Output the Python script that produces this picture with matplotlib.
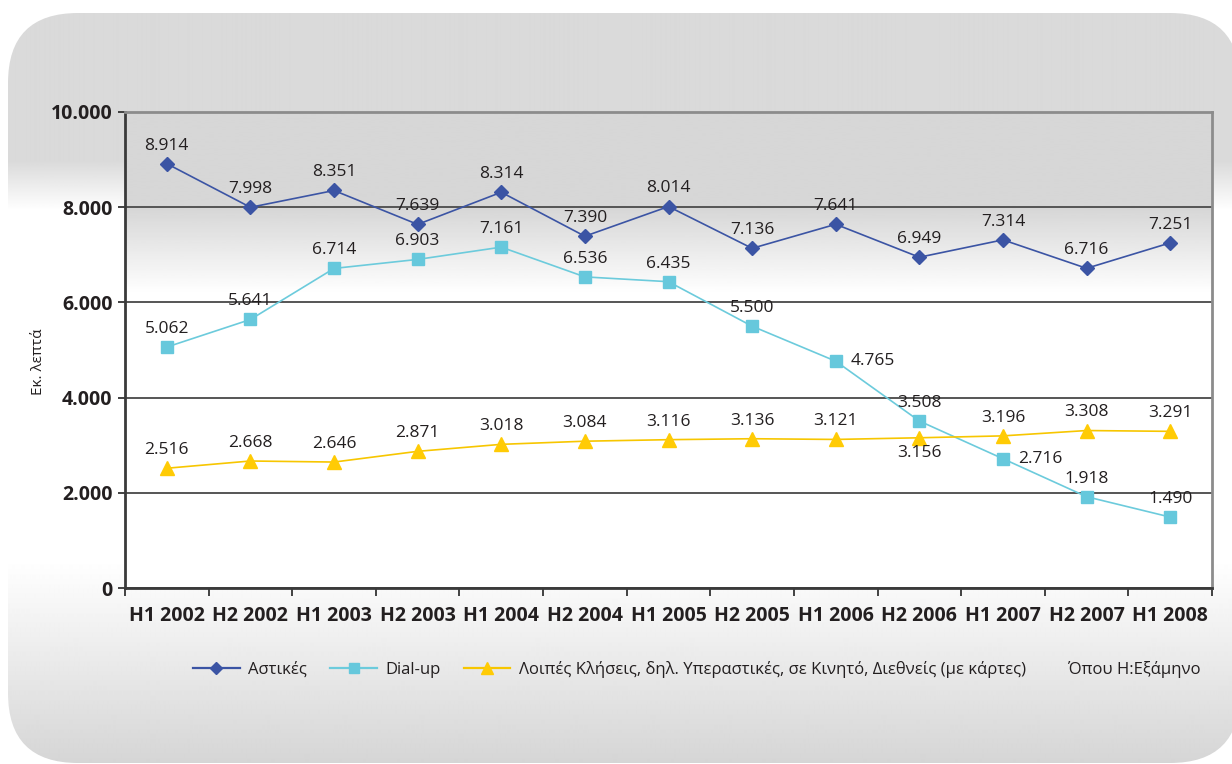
import numpy as np
import matplotlib
matplotlib.use("Agg")
import matplotlib.pyplot as plt
from matplotlib.patches import FancyBboxPatch
from matplotlib.lines import Line2D

plt.rcParams['font.family'] = ['Open Sans', 'DejaVu Sans']

periods = ['H1 2002', 'H2 2002', 'H1 2003', 'H2 2003', 'H1 2004', 'H2 2004', 'H1 2005',
           'H2 2005', 'H1 2006', 'H2 2006', 'H1 2007', 'H2 2007', 'H1 2008']
astikes = [8914, 7998, 8351, 7639, 8314, 7390, 8014, 7136, 7641, 6949, 7314, 6716, 7251]
dialup = [5062, 5641, 6714, 6903, 7161, 6536, 6435, 5500, 4765, 3508, 2716, 1918, 1490]
loipes = [2516, 2668, 2646, 2871, 3018, 3084, 3116, 3136, 3121, 3156, 3196, 3308, 3291]
yticks = [0, 2000, 4000, 6000, 8000, 10000]

names = ['Αστικές', 'Dial-up',
         'Λοιπές Κλήσεις, δηλ. Υπεραστικές, σε Κινητό, Διεθνείς (με κάρτες)']
note = 'Όπου Η:Εξάμηνο'
ylabel = 'Εκ. λεπτά'

# label placement exceptions (series index, point index) -> side
label_side = {(1, 8): 'r', (1, 10): 'r', (2, 9): 'b'}

W, H = 1232, 764
fig = plt.figure(figsize=(W / 100, H / 100), dpi=100)
fig.patch.set_facecolor('white')

# rounded gradient panel behind everything
bg = fig.add_axes([0, 0, 1, 1], zorder=-10)
bg.set_xlim(0, W)
bg.set_ylim(H, 0)
bg.axis('off')
yy = np.arange(H)
g = np.interp(yy, [0, 160, 210, 560, 764], [0.852, 0.852, 1.0, 1.0, 0.835])
img = bg.imshow(np.repeat(g[:, None], 4, axis=1), extent=(0, W, H, 0), cmap='gray',
                vmin=0, vmax=1, aspect='auto', interpolation='bilinear')
panel = FancyBboxPatch((8, 13), 1232, 750, boxstyle='round,pad=0,rounding_size=70',
                       fc='none', ec='none', transform=bg.transData)
bg.add_patch(panel)
img.set_clip_path(panel)

ax = fig.add_axes([125 / W, 1 - 588 / H, (1212 - 125) / W, (588 - 112) / H])
ax.set_facecolor('none')
ax.set_xlim(-0.5, len(periods) - 0.5)
ax.set_ylim(0, 10000)

# plot area gradient: gray on top, fading to white between 8.000 and 6.000
vals = np.linspace(10000, 0, 300)
pg = np.interp(vals, [0, 6200, 8000, 10000], [1.0, 1.0, 0.84, 0.84])
ax.imshow(pg[:, None], extent=(-0.5, len(periods) - 0.5, 0, 10000), cmap='gray',
          vmin=0, vmax=1, aspect='auto', zorder=0, interpolation='bilinear')

ax.set_axisbelow(True)
ax.yaxis.grid(True, color='#555555', lw=1.4)
ax.set_yticks(yticks)
ax.set_yticklabels([f'{v:,.0f}'.replace(',', '.') for v in yticks],
                   fontsize=14, fontweight='bold', color='#231f20')
ax.tick_params(axis='y', length=5, width=1.3, color='#333333', pad=4)

x = np.arange(len(periods))
ax.set_xticks(x)
ax.set_xticklabels(periods, fontsize=14, fontweight='bold', color='#231f20')
ax.set_xticks(np.arange(len(periods) + 1) - 0.5, minor=True)
ax.tick_params(axis='x', which='major', length=0, pad=13)
ax.tick_params(axis='x', which='minor', length=6, width=1.3, color='#333333')

for s in ['left', 'bottom']:
    ax.spines[s].set_color('#3a3a3a')
    ax.spines[s].set_linewidth(2)
for s in ['top', 'right']:
    ax.spines[s].set_color('#8c8c8c')
    ax.spines[s].set_linewidth(2)

series = [astikes, dialup, loipes]
colors = ['#3b54a4', '#6ccbdc', '#f7c600']
mcolors = ['#3b54a4', '#66c8dc', '#ffcb05']
markers = ['D', 's', '^']
msizes = [7, 8.5, 10]

handles = []
for i, ys in enumerate(series):
    ax.plot(x, ys, color=colors[i], lw=1.2, marker=markers[i], ms=msizes[i],
            mfc=mcolors[i], mec=mcolors[i], zorder=3, clip_on=False)
    handles.append(Line2D([], [], color=colors[i], lw=1.6, marker=markers[i],
                          ms=msizes[i] * 0.85, mfc=mcolors[i], mec=mcolors[i]))
    for j, v in enumerate(ys):
        txt = f'{v:,.0f}'.replace(',', '.')
        side = label_side.get((i, j), 'a')
        if side == 'a':
            off, ha, va = (0, 13), 'center', 'center'
        elif side == 'r':
            off, ha, va = (11, 0), 'left', 'center'
        else:
            off, ha, va = (0, -11), 'center', 'center'
        ax.annotate(txt, (j, v), xytext=off, textcoords='offset points', ha=ha, va=va,
                    fontsize=12.5, color='#231f20', zorder=4)

fig.text(38 / W, 1 - 362 / H, ylabel, rotation=90, ha='center', va='center',
         fontsize=11, color='#231f20')

fig.legend(handles, names, loc='center left', bbox_to_anchor=(193 / W, 1 - 669 / H),
           ncol=3, frameon=False, fontsize=12, handlelength=2.8, handletextpad=0.5,
           columnspacing=1.4, borderpad=0, borderaxespad=0, labelcolor='#231f20')
fig.text(1068 / W, 1 - 670 / H, note, ha='left', va='center', fontsize=12,
         color='#231f20')

fig.savefig('out.png', dpi=100)
